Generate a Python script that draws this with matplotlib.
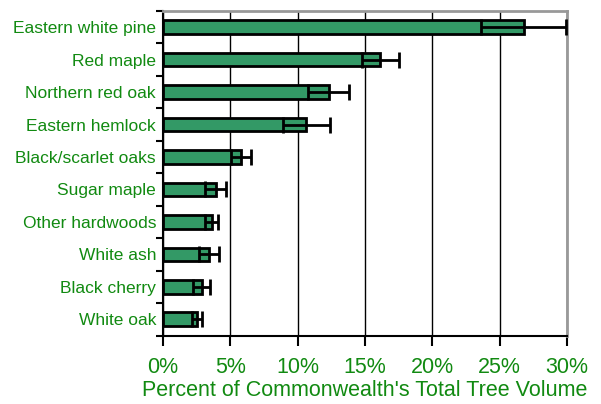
import matplotlib
matplotlib.use("Agg")
import matplotlib.pyplot as plt
import numpy as np

# species, share of total tree volume (%) and error (+/- %)
species = ["Eastern white pine", "Red maple", "Northern red oak", "Eastern hemlock",
           "Black/scarlet oaks", "Sugar maple", "Other hardwoods", "White ash",
           "Black cherry", "White oak"]
volume = [26.8, 16.15, 12.3, 10.65, 5.8, 3.9, 3.62, 3.42, 2.87, 2.55]
error = [3.15, 1.4, 1.5, 1.75, 0.72, 0.8, 0.5, 0.72, 0.65, 0.38]
xticks = [0, 5, 10, 15, 20, 25, 30]

green_text = "#118a11"
bar_col = "#339966"

plt.rcParams["font.family"] = ["Liberation Sans", "DejaVu Sans"]

fig = plt.figure(figsize=(6.01, 4.04), dpi=100)
ax = fig.add_axes([163 / 601, 1 - 335.5 / 404, (567 - 163) / 601, (335.5 - 11) / 404])

y = np.arange(len(species))
ax.barh(y, volume, height=0.42, color=bar_col, edgecolor="black", linewidth=2, zorder=3)
ax.errorbar(volume, y, xerr=error, fmt="none", ecolor="black", elinewidth=2,
            capsize=6, capthick=2, zorder=4)

ax.set_xlim(0, 30)
ax.set_ylim(9.5, -0.5)
ax.set_xticks(xticks)
ax.set_xticklabels([f"{t}%" for t in xticks])
ax.set_yticks(y)
ax.set_yticklabels(species)
ax.set_yticks(np.arange(-0.5, 10, 1), minor=True)
ax.tick_params(axis="y", which="major", length=0, pad=5, labelsize=12.5, labelcolor=green_text)
ax.tick_params(axis="y", which="minor", length=5, width=1.5, direction="out")
ax.tick_params(axis="x", length=7, width=1.5, direction="out", pad=8.5,
               labelsize=15.5, labelcolor=green_text)

ax.grid(axis="x", color="black", linewidth=1, zorder=0)
ax.spines["left"].set_linewidth(1.5)
ax.spines["bottom"].set_linewidth(1.5)
ax.spines["top"].set_color("#999999")
ax.spines["right"].set_color("#999999")
ax.spines["top"].set_linewidth(2)
ax.spines["right"].set_linewidth(2)

ax.set_xlabel("Percent of Commonwealth's Total Tree Volume", fontsize=15.5,
              color=green_text, labelpad=1.5)

fig.savefig("out.png", dpi=100)
